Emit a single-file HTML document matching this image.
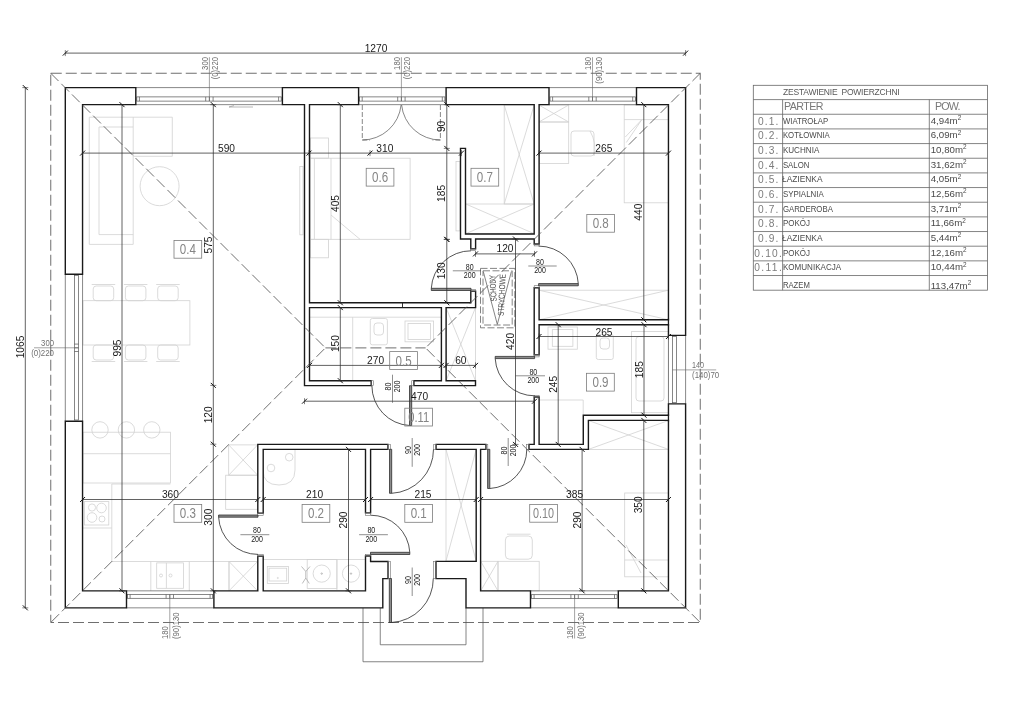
<!DOCTYPE html><html><head><meta charset="utf-8"><title>Plan</title>
<style>html,body{margin:0;padding:0;background:#fff}svg{display:block;filter:grayscale(1) blur(0.35px)}text{font-family:"Liberation Sans",sans-serif}</style></head><body>
<svg width="1024" height="724" viewBox="0 0 1024 724">
<rect width="1024" height="724" fill="#fff"/>
<g fill="none" stroke="#d2d2d2" stroke-width="0.8">
<path d="M89.3 117.2H172.3V156.3H133.2V244.4H89.3Z"/>
<path d="M99 127H133.2M99 127V234.6H133.2"/>
<line x1="133.2" y1="117.2" x2="133.2" y2="156.3" />
<circle cx="159.6" cy="186.2" r="19.5" />
<rect x="83" y="300.7" width="106.9" height="44.3" />
<rect x="93.2" y="286" width="20.5" height="14.7" rx="3"/>
<line x1="91.7" y1="284.5" x2="115.2" y2="284.5" />
<rect x="93.2" y="345" width="20.5" height="15" rx="3"/>
<line x1="91.7" y1="361.5" x2="115.2" y2="361.5" />
<rect x="125.4" y="286" width="20.5" height="14.7" rx="3"/>
<line x1="123.9" y1="284.5" x2="147.4" y2="284.5" />
<rect x="125.4" y="345" width="20.5" height="15" rx="3"/>
<line x1="123.9" y1="361.5" x2="147.4" y2="361.5" />
<rect x="157.7" y="286" width="20.5" height="14.7" rx="3"/>
<line x1="156.2" y1="284.5" x2="179.7" y2="284.5" />
<rect x="157.7" y="345" width="20.5" height="15" rx="3"/>
<line x1="156.2" y1="361.5" x2="179.7" y2="361.5" />
<circle cx="100" cy="429.9" r="8.2" />
<circle cx="126.4" cy="429.9" r="8.2" />
<circle cx="151.8" cy="429.9" r="8.2" />
<rect x="83" y="432.2" width="87.4" height="50.8" />
<line x1="83" y1="453.7" x2="170.4" y2="453.7" />
<path d="M170.4 484H111.8V561.5H258"/>
<rect x="84.4" y="501.6" width="24.4" height="23.4" />
<line x1="83" y1="528" x2="111.8" y2="528" />
<circle cx="92" cy="507.5" r="3.6" />
<circle cx="101.5" cy="508" r="4.8" />
<circle cx="92" cy="517.5" r="4.8" />
<circle cx="102" cy="519" r="3" />
<line x1="150.8" y1="561.5" x2="150.8" y2="590.85" />
<line x1="189.3" y1="561.5" x2="189.3" y2="590.85" />
<line x1="229" y1="561.5" x2="229" y2="590.85" />
<rect x="156.7" y="562.9" width="26.7" height="25.4" />
<line x1="166.4" y1="562.9" x2="166.4" y2="588.3" />
<circle cx="161" cy="575.5" r="1.5" />
<circle cx="170.5" cy="575.5" r="1.5" />
<rect x="229" y="561.5" width="28.6" height="29.35" />
<line x1="229" y1="561.5" x2="257.6" y2="590.85" />
<line x1="229" y1="590.85" x2="257.6" y2="561.5" />
<rect x="228.7" y="444.9" width="28.9" height="30.3" />
<line x1="228.7" y1="444.9" x2="257.6" y2="475.2" />
<line x1="228.7" y1="475.2" x2="257.6" y2="444.9" />
<rect x="225.7" y="475.2" width="31.9" height="34.1" />
<rect x="299.8" y="166.4" width="3.2" height="68.4" />
<rect x="310.5" y="158.2" width="99.6" height="81.1" />
<rect x="310.5" y="138" width="18.0" height="20.2" />
<rect x="310.5" y="239.3" width="18.0" height="18.5" />
<line x1="314.4" y1="158.2" x2="314.4" y2="239.3" />
<line x1="331" y1="158.2" x2="331" y2="239.3" />
<line x1="331" y1="215" x2="360" y2="239.3" />
<rect x="456" y="161.5" width="4" height="69.4" />
<rect x="504.2" y="105" width="30.0" height="99" />
<line x1="504.2" y1="105" x2="534.2" y2="204" />
<line x1="504.2" y1="204" x2="534.2" y2="105" />
<rect x="465.8" y="204" width="68.4" height="29.7" />
<line x1="465.8" y1="204" x2="534.2" y2="233.7" />
<line x1="465.8" y1="233.7" x2="534.2" y2="204" />
<rect x="538.9" y="105" width="29.8" height="17" />
<line x1="538.9" y1="105" x2="568.7" y2="122" />
<line x1="538.9" y1="122" x2="568.7" y2="105" />
<rect x="538.9" y="122" width="29.8" height="41.4" />
<rect x="571" y="131" width="23" height="25" rx="3"/>
<path d="M590 131Q597 143 594 156"/>
<rect x="624.2" y="105" width="44.8" height="97.8" />
<line x1="624.2" y1="119.6" x2="669" y2="119.6" />
<path d="M625.3 137L641.7 119.8L626.3 142.5"/>
<rect x="539" y="290.2" width="129.45" height="29.6" />
<line x1="539" y1="290.2" x2="668.45" y2="319.8" />
<line x1="539" y1="319.8" x2="668.45" y2="290.2" />
<rect x="446.2" y="307.9" width="29.2" height="72.6" />
<line x1="446.2" y1="307.9" x2="475.4" y2="380.5" />
<line x1="446.2" y1="380.5" x2="475.4" y2="307.9" />
<line x1="308.8" y1="317.2" x2="441.5" y2="317.2" />
<line x1="352.7" y1="317.2" x2="352.7" y2="380.5" />
<rect x="370.3" y="318.5" width="17.1" height="26.3" rx="2"/>
<rect x="374" y="323" width="9.5" height="12" rx="3"/>
<rect x="405" y="321" width="28.6" height="20.8" />
<rect x="408" y="323.5" width="22.5" height="16.0" />
<rect x="548" y="327" width="29.3" height="22.2" />
<rect x="552.3" y="329.6" width="20.6" height="16.7" />
<rect x="596.3" y="334.5" width="17.0" height="25.0" rx="2"/>
<rect x="600" y="338" width="9.5" height="11" rx="3"/>
<rect x="631.4" y="331.6" width="37.05" height="81.1" />
<rect x="636" y="336.5" width="28" height="64.5" rx="3"/>
<path d="M539 400H583.2V443.9"/>
<rect x="588.5" y="420.5" width="79.95" height="28.9" />
<line x1="588.5" y1="420.5" x2="668.45" y2="449.4" />
<line x1="588.5" y1="449.4" x2="668.45" y2="420.5" />
<path d="M263 449.4H295V470Q295 485 279 485Q263 485 263 470Z"/>
<circle cx="289.2" cy="457.2" r="3.8" />
<circle cx="271" cy="468" r="3.8" />
<line x1="263" y1="559.5" x2="365.5" y2="559.5" />
<rect x="267.3" y="566.6" width="21.1" height="16.8" />
<rect x="269" y="568.2" width="17.7" height="12.8" />
<rect x="307.2" y="559.5" width="29.7" height="28.9" />
<circle cx="321.7" cy="573.6" r="8.6" />
<circle cx="351" cy="573.6" r="8.6" />
<line x1="336.9" y1="559.5" x2="336.9" y2="590" />
<path d="M301.5 566.5L305.8 571.5L310 566.5M305.8 571.5V578M302.3 583.5L305.8 578L309.3 583.5" stroke="#aaa"/>
<circle cx="321.7" cy="573.6" r="0.7" stroke="#aaa"/>
<circle cx="351" cy="573.6" r="0.7" stroke="#aaa"/>
<circle cx="277.8" cy="578" r="0.6" />
<rect x="446" y="449.4" width="30.2" height="111.6" />
<line x1="446" y1="449.4" x2="476.2" y2="561" />
<line x1="446" y1="561" x2="476.2" y2="449.4" />
<rect x="505.4" y="536" width="26.9" height="23.2" rx="4"/>
<line x1="507" y1="534.2" x2="530.5" y2="534.2" />
<rect x="498" y="561.3" width="41.2" height="29.55" />
<rect x="480.7" y="561.3" width="17.3" height="29.55" />
<line x1="480.7" y1="561.3" x2="498" y2="590.85" />
<line x1="480.7" y1="590.85" x2="498" y2="561.3" />
<rect x="624.7" y="493" width="44.3" height="83.8" />
<line x1="624.7" y1="560" x2="669" y2="560" />
<path d="M626 545L641 573"/>
</g>
<g fill="none" stroke="#666" stroke-width="0.8">
<path d="M363 607.85V661.75H483V607.85M380.25 607.85V644.75H466V607.85"/>
</g>
<g fill="none" stroke="#555" stroke-width="0.7">
<line x1="135.8" y1="87.6" x2="282.4" y2="87.6" />
<line x1="135.8" y1="104.65" x2="282.4" y2="104.65" />
<rect x="136.8" y="96.9" width="144.4" height="4.2" />
<line x1="205.70000000000002" y1="96.9" x2="205.70000000000002" y2="101.1" />
<line x1="209.4" y1="96.9" x2="209.4" y2="101.1" />
<line x1="213.1" y1="96.9" x2="213.1" y2="101.1" />
<line x1="139.4" y1="96.9" x2="139.4" y2="101.1" />
<line x1="278.59999999999997" y1="96.9" x2="278.59999999999997" y2="101.1" />
<line x1="358.6" y1="87.6" x2="446.1" y2="87.6" />
<line x1="358.6" y1="104.65" x2="446.1" y2="104.65" />
<rect x="359.6" y="96.9" width="85.3" height="4.2" />
<line x1="397.7" y1="96.9" x2="397.7" y2="101.1" />
<line x1="401.4" y1="96.9" x2="401.4" y2="101.1" />
<line x1="405.09999999999997" y1="96.9" x2="405.09999999999997" y2="101.1" />
<line x1="362.20000000000005" y1="96.9" x2="362.20000000000005" y2="101.1" />
<line x1="442.3" y1="96.9" x2="442.3" y2="101.1" />
<line x1="549" y1="87.6" x2="636.5" y2="87.6" />
<line x1="549" y1="104.65" x2="636.5" y2="104.65" />
<rect x="550" y="96.9" width="85.3" height="4.2" />
<line x1="588.8" y1="96.9" x2="588.8" y2="101.1" />
<line x1="592.5" y1="96.9" x2="592.5" y2="101.1" />
<line x1="596.2" y1="96.9" x2="596.2" y2="101.1" />
<line x1="552.6" y1="96.9" x2="552.6" y2="101.1" />
<line x1="632.7" y1="96.9" x2="632.7" y2="101.1" />
<line x1="126.5" y1="607.85" x2="213.9" y2="607.85" />
<line x1="126.5" y1="590.85" x2="213.9" y2="590.85" />
<rect x="127.5" y="594.5" width="85.2" height="3.8" />
<line x1="166.10000000000002" y1="594.5" x2="166.10000000000002" y2="598.3" />
<line x1="169.8" y1="594.5" x2="169.8" y2="598.3" />
<line x1="173.5" y1="594.5" x2="173.5" y2="598.3" />
<line x1="130.1" y1="594.5" x2="130.1" y2="598.3" />
<line x1="210.1" y1="594.5" x2="210.1" y2="598.3" />
<line x1="530.5" y1="607.85" x2="618.3" y2="607.85" />
<line x1="530.5" y1="590.85" x2="618.3" y2="590.85" />
<rect x="531.5" y="594.7" width="85.6" height="3.9" />
<line x1="570.9" y1="594.7" x2="570.9" y2="598.6" />
<line x1="574.6" y1="594.7" x2="574.6" y2="598.6" />
<line x1="578.3000000000001" y1="594.7" x2="578.3000000000001" y2="598.6" />
<line x1="534.1" y1="594.7" x2="534.1" y2="598.6" />
<line x1="614.5" y1="594.7" x2="614.5" y2="598.6" />
<line x1="65.3" y1="274.3" x2="65.3" y2="421.2" />
<line x1="82.55" y1="274.3" x2="82.55" y2="421.2" />
<rect x="74.4" y="275.3" width="4.1" height="144.7" />
<line x1="74.4" y1="344.1" x2="78.5" y2="344.1" />
<line x1="74.4" y1="347.8" x2="78.5" y2="347.8" />
<line x1="74.4" y1="351.5" x2="78.5" y2="351.5" />
<line x1="685.6" y1="335.4" x2="685.6" y2="403.9" />
<line x1="668.45" y1="335.4" x2="668.45" y2="403.9" />
<rect x="672.5" y="336.4" width="3.9" height="66.3" />
</g>
<path d="M229 107H253M229 107L234 105.6" fill="none" stroke="#999" stroke-width="0.7"/>
<path d="M82.55 104.65L135.8 104.65L135.8 87.6L82.55 87.6L65.3 87.6L65.3 104.65L65.3 274.3L82.55 274.3ZM304.5 307.6L304.5 380.7L304.5 385.6L309.5 385.6L371.2 385.6L371.2 380.7L309.5 380.7L309.5 307.6L441.4 307.6L441.4 380.7L413.9 380.7L413.9 385.6L441.4 385.6L446.1 385.6L475.5 385.6L475.5 380.7L446.1 380.7L446.1 307.6L470.8 307.6L475.5 307.6L475.6 307.6L475.6 291.2L470.8 291.2L470.8 302.75L309.5 302.75L309.5 104.65L358.6 104.65L358.6 87.6L282.4 87.6L282.4 104.65L304.5 104.65L304.5 302.75ZM436.1 449.4L476.2 449.4L476.2 561.4L466.0 561.4L436.0 561.4L436.0 578.6L466.0 578.6L466.0 590.85L466.0 607.85L480.6 607.85L530.5 607.85L530.5 590.85L480.6 590.85L480.6 578.6L480.6 561.4L480.6 449.4L485.9 449.4L485.9 444.4L480.6 444.4L476.2 444.4L436.1 444.4ZM263.2 444.4L257.8 444.4L257.8 449.4L257.8 513.1L263.2 513.1L263.2 449.4L365.5 449.4L365.5 512.9L370.6 512.9L370.6 449.4L387.9 449.4L387.9 444.4L370.6 444.4L365.5 444.4ZM65.3 590.85L65.3 607.85L82.55 607.85L126.5 607.85L126.5 590.85L82.55 590.85L82.55 421.2L65.3 421.2ZM365.5 556.0L365.5 561.5L365.5 578.6L365.5 590.85L263.2 590.85L263.2 556.2L257.8 556.2L257.8 590.85L213.9 590.85L213.9 607.85L365.5 607.85L382.8 607.85L382.8 590.85L382.8 578.6L388.0 578.6L388.0 561.5L370.6 561.5L370.6 556.0ZM539.1 319.8L539.1 287.8L534.2 287.8L534.2 319.8L534.2 324.7L534.2 354.7L539.1 354.7L539.1 324.7L668.45 324.7L668.45 335.4L685.6 335.4L685.6 104.65L685.6 87.6L668.45 87.6L636.5 87.6L636.5 104.65L668.45 104.65L668.45 319.8ZM534.2 104.65L534.2 234.0L475.6 234.0L470.8 234.0L465.5 234.0L465.5 148.4L460.5 148.4L460.5 234.0L460.5 239.0L465.5 239.0L470.8 239.0L470.8 248.8L475.6 248.8L475.6 239.0L534.2 239.0L534.2 244.0L539.1 244.0L539.1 104.65L549.0 104.65L549.0 87.6L446.1 87.6L446.1 104.65ZM539.1 397.0L534.2 397.0L534.2 444.4L529.0 444.4L529.0 449.4L534.2 449.4L539.1 449.4L583.3 449.4L588.4 449.4L588.4 444.4L588.4 420.4L668.45 420.4L668.45 590.85L618.3 590.85L618.3 607.85L668.45 607.85L685.6 607.85L685.6 590.85L685.6 403.9L668.45 403.9L668.45 415.2L588.4 415.2L583.3 415.2L583.3 420.4L583.3 444.4L539.1 444.4Z" fill="#fff" fill-rule="evenodd" stroke="#1a1a1a" stroke-width="1.4" stroke-linejoin="miter"/>
<path d="M668.45 318.5V325.7M668.45 414.2V421.4" stroke="#1a1a1a" stroke-width="1.3" fill="none"/>
<line x1="402.5" y1="302.75" x2="402.5" y2="307.6" stroke="#1c1c1c" stroke-width="0.9"/>
<g fill="none" stroke="#4a4a4a" stroke-width="0.8" stroke-dasharray="11 4">
<rect x="50.75" y="73.25" width="649.5" height="549.25"/>
<path d="M50.75 73.25L325.4 347.9L50.75 622.5M700.25 73.25L425.6 347.9L700.25 622.5M325.4 347.9H425.6"/>
</g>
<g fill="none" stroke="#666" stroke-width="0.8">
<rect x="480.5" y="268.4" width="34.3" height="59.4" stroke-dasharray="7 2.5"/>
<rect x="483" y="270.8" width="29.2" height="54.2" stroke-dasharray="7 2.5"/>
<path d="M483.3 271.5L497.3 324.4L511.4 271.5"/>
</g>
<g fill="#484848" font-size="8.6px" text-anchor="end">
<text transform="translate(495.2 274.6) rotate(-93) scale(-1 1)" style="display:none"></text>
<text transform="translate(495.4 274.8) rotate(-93) scale(.72 1)" text-anchor="end">SCHODY</text>
<text transform="translate(505.6 274.2) rotate(-87.6) scale(.75 1)" text-anchor="end">STRYCHOWE</text>
</g>
<g fill="none" stroke="#707070" stroke-width="0.6">
<rect x="470.8" y="248.8" width="4.8" height="1.8" />
<rect x="470.8" y="289.4" width="4.8" height="1.8" />
<rect x="534.2" y="244" width="4.9" height="1.9" />
<rect x="534.2" y="285.7" width="4.9" height="2.1" />
<rect x="534.2" y="354.7" width="4.9" height="2.2" />
<rect x="534.2" y="395.3" width="4.9" height="1.7" />
<rect x="371.2" y="380.7" width="2.2" height="4.9" />
<rect x="411.7" y="380.7" width="2.2" height="4.9" />
<rect x="387.9" y="444.4" width="2.4" height="5.0" />
<rect x="433.7" y="444.4" width="2.4" height="5.0" />
<rect x="485.9" y="444.4" width="1.9" height="5.0" />
<rect x="526.6" y="444.4" width="2.4" height="5.0" />
<rect x="257.8" y="513.1" width="5.4" height="2.4" />
<rect x="257.8" y="554.3" width="5.4" height="1.9" />
<rect x="365.5" y="512.9" width="5.1" height="2.5" />
<rect x="365.5" y="554.4" width="5.1" height="1.6" />
<rect x="388" y="561.5" width="2.4" height="17.1" />
<rect x="433.6" y="561.4" width="2.4" height="17.2" />
</g>
<g fill="none" stroke="#2a2a2a" stroke-width="0.8">
<path d="M471 290.5L431.3 290.5L431.3 288.3L471.0 288.3Z" fill="#8c8c8c" stroke="#262626" stroke-width="0.75"/>
<path d="M431.3 288.3A39.7 39.7 0 0 1 471.0 250.8"/>
<path d="M538.6 285.8L578.3 285.8L578.3 283.6L538.6 283.6Z" fill="#8c8c8c" stroke="#262626" stroke-width="0.75"/>
<path d="M578.3 283.6A39.7 39.7 0 0 0 538.6 246.1"/>
<path d="M534.6 356.4L495.2 356.4L495.2 358.6L534.6 358.6Z" fill="#8c8c8c" stroke="#262626" stroke-width="0.75"/>
<path d="M495.2 358.6A39.4 39.4 0 0 0 534.6 395.8"/>
<path d="M411.7 385.7L411.7 425.5L409.5 425.5L409.5 385.7Z" fill="#8c8c8c" stroke="#262626" stroke-width="0.75"/>
<path d="M409.5 425.5A39.8 39.8 0 0 1 371.9 385.7"/>
<path d="M389.5 449.3L389.5 493.3L391.7 493.3L391.7 449.3Z" fill="#8c8c8c" stroke="#262626" stroke-width="0.75"/>
<path d="M391.7 493.3A44 44 0 0 0 433.5 449.3"/>
<path d="M487.6 449.3L487.6 488.5L489.8 488.5L489.8 449.3Z" fill="#8c8c8c" stroke="#262626" stroke-width="0.75"/>
<path d="M489.8 488.5A39.2 39.2 0 0 0 526.8 449.3"/>
<path d="M258 515L218.6 515.0L218.6 517.2L258.0 517.2Z" fill="#8c8c8c" stroke="#262626" stroke-width="0.75"/>
<path d="M218.6 517.2A39.4 39.4 0 0 0 258.0 554.4"/>
<path d="M370.5 554.5L409.8 554.5L409.8 552.3L370.5 552.3Z" fill="#8c8c8c" stroke="#262626" stroke-width="0.75"/>
<path d="M409.8 552.3A39.3 39.3 0 0 0 370.5 515.2"/>
<path d="M389.3 578.5L389.3 622.5L391.5 622.5L391.5 578.5Z" fill="#8c8c8c" stroke="#262626" stroke-width="0.75"/>
<path d="M391.5 622.5A44 44 0 0 0 433.3 578.5"/>
</g>
<g fill="none" stroke="#555" stroke-width="0.7">
<path d="M362.3 105V140H370M440.4 105V140H432.5" stroke-dasharray="5 2"/>
<path d="M362.3 140A39 39 0 0 0 401.1 105M440.4 140A39 39 0 0 1 401.6 105"/>
</g>
<g fill="none" stroke="#2e2e2e" stroke-width="0.75">
<line x1="65.0" y1="53.1" x2="685.9" y2="53.1" />
<path d="M62.8 55.6L67.8 50.6" stroke="#111" stroke-width="1"/>
<path d="M65.3 50.1V56.1" stroke-width="0.6"/>
<path d="M683.1 55.6L688.1 50.6" stroke="#111" stroke-width="1"/>
<path d="M685.6 50.1V56.1" stroke-width="0.6"/>
<line x1="25.3" y1="87.3" x2="25.3" y2="608.15" />
<path d="M22.8 85.1L27.8 90.1" stroke="#111" stroke-width="1"/>
<path d="M22.3 87.6H28.3" stroke-width="0.6"/>
<path d="M22.8 605.35L27.8 610.35" stroke="#111" stroke-width="1"/>
<path d="M22.3 607.85H28.3" stroke-width="0.6"/>
<line x1="82.25" y1="153.1" x2="461.8" y2="153.1" />
<path d="M80.05 155.6L85.05 150.6" stroke="#111" stroke-width="1"/>
<path d="M82.55 150.1V156.1" stroke-width="0.6"/>
<path d="M306.5 155.6L311.5 150.6" stroke="#111" stroke-width="1"/>
<path d="M309 150.1V156.1" stroke-width="0.6"/>
<path d="M367.5 155.6L372.5 150.6" stroke="#111" stroke-width="1"/>
<path d="M370 150.1V156.1" stroke-width="0.6"/>
<path d="M459.0 155.6L464.0 150.6" stroke="#111" stroke-width="1"/>
<path d="M461.5 150.1V156.1" stroke-width="0.6"/>
<line x1="538.7" y1="153.1" x2="668.75" y2="153.1" />
<path d="M536.5 155.6L541.5 150.6" stroke="#111" stroke-width="1"/>
<path d="M539 150.1V156.1" stroke-width="0.6"/>
<path d="M665.95 155.6L670.95 150.6" stroke="#111" stroke-width="1"/>
<path d="M668.45 150.1V156.1" stroke-width="0.6"/>
<line x1="122" y1="104.35000000000001" x2="122" y2="591.15" />
<path d="M119.5 102.15L124.5 107.15" stroke="#111" stroke-width="1"/>
<path d="M119 104.65H125" stroke-width="0.6"/>
<path d="M119.5 588.35L124.5 593.35" stroke="#111" stroke-width="1"/>
<path d="M119 590.85H125" stroke-width="0.6"/>
<line x1="213.3" y1="104.35000000000001" x2="213.3" y2="591.15" />
<path d="M210.8 102.15L215.8 107.15" stroke="#111" stroke-width="1"/>
<path d="M210.3 104.65H216.3" stroke-width="0.6"/>
<path d="M210.8 382.9L215.8 387.9" stroke="#111" stroke-width="1"/>
<path d="M210.3 385.4H216.3" stroke-width="0.6"/>
<path d="M210.8 441.7L215.8 446.7" stroke="#111" stroke-width="1"/>
<path d="M210.3 444.2H216.3" stroke-width="0.6"/>
<path d="M210.8 588.35L215.8 593.35" stroke="#111" stroke-width="1"/>
<path d="M210.3 590.85H216.3" stroke-width="0.6"/>
<line x1="340.3" y1="104.35000000000001" x2="340.3" y2="303.05" />
<path d="M337.8 102.15L342.8 107.15" stroke="#111" stroke-width="1"/>
<path d="M337.3 104.65H343.3" stroke-width="0.6"/>
<path d="M337.8 300.25L342.8 305.25" stroke="#111" stroke-width="1"/>
<path d="M337.3 302.75H343.3" stroke-width="0.6"/>
<line x1="340.3" y1="307.3" x2="340.3" y2="381.0" />
<path d="M337.8 305.1L342.8 310.1" stroke="#111" stroke-width="1"/>
<path d="M337.3 307.6H343.3" stroke-width="0.6"/>
<path d="M337.8 378.2L342.8 383.2" stroke="#111" stroke-width="1"/>
<path d="M337.3 380.7H343.3" stroke-width="0.6"/>
<line x1="446.8" y1="104.35000000000001" x2="446.8" y2="239.70000000000002" />
<path d="M444.3 102.15L449.3 107.15" stroke="#111" stroke-width="1"/>
<path d="M443.8 104.65H449.8" stroke-width="0.6"/>
<path d="M444.3 145.9L449.3 150.9" stroke="#111" stroke-width="1"/>
<path d="M443.8 148.4H449.8" stroke-width="0.6"/>
<path d="M444.3 236.9L449.3 241.9" stroke="#111" stroke-width="1"/>
<path d="M443.8 239.4H449.8" stroke-width="0.6"/>
<line x1="446.8" y1="239.4" x2="446.8" y2="302.75" />
<path d="M444.3 236.9L449.3 241.9" stroke="#111" stroke-width="1"/>
<path d="M443.8 239.4H449.8" stroke-width="0.6"/>
<path d="M444.3 300.25L449.3 305.25" stroke="#111" stroke-width="1"/>
<path d="M443.8 302.75H449.8" stroke-width="0.6"/>
<line x1="475.2" y1="253.9" x2="534.8" y2="253.9" />
<path d="M473.0 256.4L478.0 251.4" stroke="#111" stroke-width="1"/>
<path d="M475.5 250.9V256.9" stroke-width="0.6"/>
<path d="M532.0 256.4L537.0 251.4" stroke="#111" stroke-width="1"/>
<path d="M534.5 250.9V256.9" stroke-width="0.6"/>
<line x1="515.5" y1="238.7" x2="515.5" y2="444.7" />
<path d="M513.0 236.5L518.0 241.5" stroke="#111" stroke-width="1"/>
<path d="M512.5 239H518.5" stroke-width="0.6"/>
<path d="M513.0 441.9L518.0 446.9" stroke="#111" stroke-width="1"/>
<path d="M512.5 444.4H518.5" stroke-width="0.6"/>
<line x1="643.8" y1="104.35000000000001" x2="643.8" y2="320.1" />
<path d="M641.3 102.15L646.3 107.15" stroke="#111" stroke-width="1"/>
<path d="M640.8 104.65H646.8" stroke-width="0.6"/>
<path d="M641.3 317.3L646.3 322.3" stroke="#111" stroke-width="1"/>
<path d="M640.8 319.8H646.8" stroke-width="0.6"/>
<line x1="644" y1="324.4" x2="644" y2="415.5" />
<path d="M641.5 322.2L646.5 327.2" stroke="#111" stroke-width="1"/>
<path d="M641 324.7H647" stroke-width="0.6"/>
<path d="M641.5 412.7L646.5 417.7" stroke="#111" stroke-width="1"/>
<path d="M641 415.2H647" stroke-width="0.6"/>
<line x1="643.8" y1="420.09999999999997" x2="643.8" y2="591.15" />
<path d="M641.3 417.9L646.3 422.9" stroke="#111" stroke-width="1"/>
<path d="M640.8 420.4H646.8" stroke-width="0.6"/>
<path d="M641.3 588.35L646.3 593.35" stroke="#111" stroke-width="1"/>
<path d="M640.8 590.85H646.8" stroke-width="0.6"/>
<line x1="538.7" y1="336.5" x2="668.75" y2="336.5" />
<path d="M536.5 339.0L541.5 334.0" stroke="#111" stroke-width="1"/>
<path d="M539 333.5V339.5" stroke-width="0.6"/>
<path d="M665.95 339.0L670.95 334.0" stroke="#111" stroke-width="1"/>
<path d="M668.45 333.5V339.5" stroke-width="0.6"/>
<line x1="558.2" y1="324.4" x2="558.2" y2="444.7" />
<path d="M555.7 322.2L560.7 327.2" stroke="#111" stroke-width="1"/>
<path d="M555.2 324.7H561.2" stroke-width="0.6"/>
<path d="M555.7 441.9L560.7 446.9" stroke="#111" stroke-width="1"/>
<path d="M555.2 444.4H561.2" stroke-width="0.6"/>
<line x1="309.2" y1="365.4" x2="441.7" y2="365.4" />
<path d="M307.0 367.9L312.0 362.9" stroke="#111" stroke-width="1"/>
<path d="M309.5 362.4V368.4" stroke-width="0.6"/>
<path d="M438.9 367.9L443.9 362.9" stroke="#111" stroke-width="1"/>
<path d="M441.4 362.4V368.4" stroke-width="0.6"/>
<line x1="445.8" y1="365.4" x2="475.8" y2="365.4" />
<path d="M443.6 367.9L448.6 362.9" stroke="#111" stroke-width="1"/>
<path d="M446.1 362.4V368.4" stroke-width="0.6"/>
<path d="M473.0 367.9L478.0 362.9" stroke="#111" stroke-width="1"/>
<path d="M475.5 362.4V368.4" stroke-width="0.6"/>
<line x1="304.2" y1="401.2" x2="534.8" y2="401.2" />
<path d="M302.0 403.7L307.0 398.7" stroke="#111" stroke-width="1"/>
<path d="M304.5 398.2V404.2" stroke-width="0.6"/>
<path d="M532.0 403.7L537.0 398.7" stroke="#111" stroke-width="1"/>
<path d="M534.5 398.2V404.2" stroke-width="0.6"/>
<line x1="82.25" y1="499.5" x2="258.1" y2="499.5" />
<path d="M80.05 502.0L85.05 497.0" stroke="#111" stroke-width="1"/>
<path d="M82.55 496.5V502.5" stroke-width="0.6"/>
<path d="M255.3 502.0L260.3 497.0" stroke="#111" stroke-width="1"/>
<path d="M257.8 496.5V502.5" stroke-width="0.6"/>
<line x1="262.9" y1="499.5" x2="365.8" y2="499.5" />
<path d="M260.7 502.0L265.7 497.0" stroke="#111" stroke-width="1"/>
<path d="M263.2 496.5V502.5" stroke-width="0.6"/>
<path d="M363.0 502.0L368.0 497.0" stroke="#111" stroke-width="1"/>
<path d="M365.5 496.5V502.5" stroke-width="0.6"/>
<line x1="370.3" y1="499.5" x2="476.5" y2="499.5" />
<path d="M368.1 502.0L373.1 497.0" stroke="#111" stroke-width="1"/>
<path d="M370.6 496.5V502.5" stroke-width="0.6"/>
<path d="M473.7 502.0L478.7 497.0" stroke="#111" stroke-width="1"/>
<path d="M476.2 496.5V502.5" stroke-width="0.6"/>
<line x1="480.3" y1="499.5" x2="668.75" y2="499.5" />
<path d="M478.1 502.0L483.1 497.0" stroke="#111" stroke-width="1"/>
<path d="M480.6 496.5V502.5" stroke-width="0.6"/>
<path d="M665.95 502.0L670.95 497.0" stroke="#111" stroke-width="1"/>
<path d="M668.45 496.5V502.5" stroke-width="0.6"/>
<line x1="348.5" y1="449.09999999999997" x2="348.5" y2="591.15" />
<path d="M346.0 446.9L351.0 451.9" stroke="#111" stroke-width="1"/>
<path d="M345.5 449.4H351.5" stroke-width="0.6"/>
<path d="M346.0 588.35L351.0 593.35" stroke="#111" stroke-width="1"/>
<path d="M345.5 590.85H351.5" stroke-width="0.6"/>
<line x1="582.1" y1="449.09999999999997" x2="582.1" y2="591.15" />
<path d="M579.6 446.9L584.6 451.9" stroke="#111" stroke-width="1"/>
<path d="M579.1 449.4H585.1" stroke-width="0.6"/>
<path d="M579.6 588.35L584.6 593.35" stroke="#111" stroke-width="1"/>
<path d="M579.1 590.85H585.1" stroke-width="0.6"/>
</g>
<g fill="#1a1a1a" font-size="10.2px" text-anchor="middle">
<text x="376" y="51.6">1270</text>
<text transform="translate(23.8 347) rotate(-90)">1065</text>
<text x="226.5" y="151.7">590</text>
<text x="384.8" y="151.7">310</text>
<text x="603.8" y="151.7">265</text>
<text transform="translate(120.5 348) rotate(-90)">995</text>
<text transform="translate(211.8 245) rotate(-90)">575</text>
<text transform="translate(211.8 414.8) rotate(-90)">120</text>
<text transform="translate(211.8 517.2) rotate(-90)">300</text>
<text transform="translate(338.8 203.5) rotate(-90)">405</text>
<text transform="translate(338.8 343.6) rotate(-90)">150</text>
<text transform="translate(445.3 126.4) rotate(-90)">90</text>
<text transform="translate(445.3 193.4) rotate(-90)">185</text>
<text transform="translate(445.3 270.8) rotate(-90)">130</text>
<text x="505" y="252.4">120</text>
<text transform="translate(514.0 341.4) rotate(-90)">420</text>
<text transform="translate(642.3 212.2) rotate(-90)">440</text>
<text transform="translate(642.5 369.7) rotate(-90)">185</text>
<text transform="translate(642.3 504.8) rotate(-90)">350</text>
<text x="604" y="335.9">265</text>
<text transform="translate(556.7 384.3) rotate(-90)">245</text>
<text x="375.6" y="363.9">270</text>
<text x="460.8" y="363.9">60</text>
<text x="419.6" y="399.7">470</text>
<text x="170.4" y="498.1">360</text>
<text x="314.6" y="498.1">210</text>
<text x="423" y="498.1">215</text>
<text x="574.6" y="498.1">385</text>
<text transform="translate(347.0 520) rotate(-90)">290</text>
<text transform="translate(580.6 520) rotate(-90)">290</text>
</g>
<g fill="none" stroke="#7c7c7c" stroke-width="0.8">
<rect x="174" y="240.4" width="27.7" height="17.8" />
<rect x="366.2" y="168.3" width="27.7" height="17.8" />
<rect x="471" y="168.3" width="27.7" height="17.8" />
<rect x="586.8" y="214.4" width="27.7" height="17.8" />
<rect x="389.7" y="351.6" width="27.7" height="17.8" />
<rect x="586.6" y="373.3" width="27.7" height="17.8" />
<rect x="404.8" y="408.2" width="27.7" height="17.8" />
<rect x="174" y="504.5" width="27.7" height="17.8" />
<rect x="302.1" y="504.5" width="27.7" height="17.8" />
<rect x="404.8" y="504.5" width="27.7" height="17.8" />
<rect x="529.7" y="504.4" width="27.7" height="17.8" />
</g>
<g fill="#858585" font-size="14px" text-anchor="middle">
<text x="187.9" y="254.3" textLength="16.1" lengthAdjust="spacingAndGlyphs">0.4</text>
<text x="380.1" y="182.2" textLength="16.1" lengthAdjust="spacingAndGlyphs">0.6</text>
<text x="484.9" y="182.2" textLength="16.1" lengthAdjust="spacingAndGlyphs">0.7</text>
<text x="600.7" y="228.3" textLength="16.1" lengthAdjust="spacingAndGlyphs">0.8</text>
<text x="403.6" y="365.5" textLength="16.1" lengthAdjust="spacingAndGlyphs">0.5</text>
<text x="600.5" y="387.2" textLength="16.1" lengthAdjust="spacingAndGlyphs">0.9</text>
<text x="418.7" y="422.1" textLength="21" lengthAdjust="spacingAndGlyphs">0.11</text>
<text x="187.9" y="518.4" textLength="16.1" lengthAdjust="spacingAndGlyphs">0.3</text>
<text x="316.0" y="518.4" textLength="16.1" lengthAdjust="spacingAndGlyphs">0.2</text>
<text x="418.7" y="518.4" textLength="16.1" lengthAdjust="spacingAndGlyphs">0.1</text>
<text x="543.6" y="518.3" textLength="21" lengthAdjust="spacingAndGlyphs">0.10</text>
</g>
<g fill="none" stroke="#444" stroke-width="0.6">
<line x1="452.8" y1="270.8" x2="481" y2="270.8" />
<line x1="528.3" y1="266" x2="556.7" y2="266" />
<line x1="515.5" y1="375.8" x2="545" y2="375.8" />
<line x1="240.4" y1="534.7" x2="269.3" y2="534.7" />
<line x1="359.1" y1="534.7" x2="387.9" y2="534.7" />
<line x1="392.5" y1="374.7" x2="392.5" y2="402.8" />
<line x1="412.2" y1="438" x2="412.2" y2="466.8" />
<line x1="508.2" y1="438" x2="508.2" y2="466" />
<line x1="412.2" y1="567.5" x2="412.2" y2="596" />
</g>
<g fill="#1a1a1a" font-size="8.2px" text-anchor="middle">
<text transform="translate(469.7 269.5) scale(.86 1)">80</text><text transform="translate(469.7 278.2) scale(.86 1)">200</text>
<text transform="translate(540 264.7) scale(.86 1)">80</text><text transform="translate(540 273.4) scale(.86 1)">200</text>
<text transform="translate(533.3 374.5) scale(.86 1)">80</text><text transform="translate(533.3 383.2) scale(.86 1)">200</text>
<text transform="translate(257 533.4) scale(.86 1)">80</text><text transform="translate(257 542.1) scale(.86 1)">200</text>
<text transform="translate(371.3 533.4) scale(.86 1)">80</text><text transform="translate(371.3 542.1) scale(.86 1)">200</text>
<text transform="translate(391.2 386.5) rotate(-90) scale(.86 1)">80</text>
<text transform="translate(399.9 386.5) rotate(-90) scale(.86 1)">200</text>
<text transform="translate(410.9 450) rotate(-90) scale(.86 1)">90</text>
<text transform="translate(419.6 450) rotate(-90) scale(.86 1)">200</text>
<text transform="translate(506.9 450.5) rotate(-90) scale(.86 1)">80</text>
<text transform="translate(515.6 450.5) rotate(-90) scale(.86 1)">200</text>
<text transform="translate(410.9 580) rotate(-90) scale(.86 1)">90</text>
<text transform="translate(419.6 580) rotate(-90) scale(.86 1)">200</text>
</g>
<g fill="none" stroke="#666" stroke-width="0.6">
<line x1="209.4" y1="57.2" x2="209.4" y2="101.1" />
<line x1="401.4" y1="57.2" x2="401.4" y2="101.1" />
<line x1="592.5" y1="57.2" x2="592.5" y2="100.8" />
<line x1="169.8" y1="594.5" x2="169.8" y2="638.5" />
<line x1="574.6" y1="594.7" x2="574.6" y2="638.5" />
<line x1="34" y1="347.8" x2="78.3" y2="347.8" />
<line x1="672.5" y1="369.9" x2="716.2" y2="369.9" />
</g>
<g fill="#707070" font-size="9px">
<text transform="translate(207.8 57) rotate(-90) scale(.86 1)" text-anchor="end">300</text>
<text transform="translate(218.4 57) rotate(-90) scale(.86 1)" text-anchor="end">(0)220</text>
<text transform="translate(399.8 57) rotate(-90) scale(.86 1)" text-anchor="end">180</text>
<text transform="translate(410.4 57) rotate(-90) scale(.86 1)" text-anchor="end">(0)220</text>
<text transform="translate(590.9 57) rotate(-90) scale(.86 1)" text-anchor="end">180</text>
<text transform="translate(601.5 57) rotate(-90) scale(.86 1)" text-anchor="end">(90)130</text>
<text transform="translate(168.2 639) rotate(-90) scale(.86 1)" text-anchor="start">180</text>
<text transform="translate(178.8 639) rotate(-90) scale(.86 1)" text-anchor="start">(90)130</text>
<text transform="translate(573.0 639) rotate(-90) scale(.86 1)" text-anchor="start">180</text>
<text transform="translate(583.6 639) rotate(-90) scale(.86 1)" text-anchor="start">(90)130</text>
<text transform="translate(54 345.6) scale(.86 1)" text-anchor="end">300</text><text transform="translate(54 356.2) scale(.88 1)" text-anchor="end">(0)220</text>
<text transform="translate(692 367.6) scale(.8 1)">140</text><text transform="translate(692 378.1) scale(.88 1)">(140)70</text>
</g>
<g fill="none" stroke="#666" stroke-width="0.8">
<rect x="753.3" y="85.3" width="234.1" height="204.88" />
<line x1="753.3" y1="99.6" x2="987.4" y2="99.6" />
<line x1="753.3" y1="114.26" x2="987.4" y2="114.26" />
<line x1="753.3" y1="128.92" x2="987.4" y2="128.92" />
<line x1="753.3" y1="143.58" x2="987.4" y2="143.58" />
<line x1="753.3" y1="158.24" x2="987.4" y2="158.24" />
<line x1="753.3" y1="172.9" x2="987.4" y2="172.9" />
<line x1="753.3" y1="187.56" x2="987.4" y2="187.56" />
<line x1="753.3" y1="202.22" x2="987.4" y2="202.22" />
<line x1="753.3" y1="216.88" x2="987.4" y2="216.88" />
<line x1="753.3" y1="231.54" x2="987.4" y2="231.54" />
<line x1="753.3" y1="246.2" x2="987.4" y2="246.2" />
<line x1="753.3" y1="260.86" x2="987.4" y2="260.86" />
<line x1="753.3" y1="275.52" x2="987.4" y2="275.52" />
<line x1="782.6" y1="99.6" x2="782.6" y2="290.18" />
<line x1="929.3" y1="99.6" x2="929.3" y2="290.18" />
</g>
<text x="783.1" y="94.6" fill="#585858" font-size="8.5px" textLength="116.6" lengthAdjust="spacing" word-spacing="2">ZESTAWIENIE POWIERZCHNI</text>
<text x="784" y="110.2" fill="#787878" font-size="10.7px" textLength="39.4" lengthAdjust="spacing">PARTER</text>
<text x="935" y="110.2" fill="#787878" font-size="10.7px" textLength="25.4" lengthAdjust="spacing">POW.</text>
<text x="758" y="124.56" fill="#7c7c7c" font-size="10.2px" textLength="20.4" lengthAdjust="spacing">0.1.</text>
<text x="782.9" y="123.56" fill="#4a4a4a" font-size="9px" textLength="45.2" lengthAdjust="spacingAndGlyphs">WIATROŁAP</text>
<text x="930.7" y="123.66" fill="#4a4a4a" font-size="9.7px">4,94m<tspan font-size="6.4px" dy="-3.6">2</tspan></text>
<text x="758" y="139.22" fill="#7c7c7c" font-size="10.2px" textLength="20.4" lengthAdjust="spacing">0.2.</text>
<text x="782.9" y="138.22" fill="#4a4a4a" font-size="9px" textLength="46.8" lengthAdjust="spacingAndGlyphs">KOTŁOWNIA</text>
<text x="930.7" y="138.32" fill="#4a4a4a" font-size="9.7px">6,09m<tspan font-size="6.4px" dy="-3.6">2</tspan></text>
<text x="758" y="153.88" fill="#7c7c7c" font-size="10.2px" textLength="20.4" lengthAdjust="spacing">0.3.</text>
<text x="782.9" y="152.88" fill="#4a4a4a" font-size="9px" textLength="36.4" lengthAdjust="spacingAndGlyphs">KUCHNIA</text>
<text x="930.7" y="152.98" fill="#4a4a4a" font-size="9.7px">10,80m<tspan font-size="6.4px" dy="-3.6">2</tspan></text>
<text x="758" y="168.54" fill="#7c7c7c" font-size="10.2px" textLength="20.4" lengthAdjust="spacing">0.4.</text>
<text x="782.9" y="167.54" fill="#4a4a4a" font-size="9px" textLength="26.5" lengthAdjust="spacingAndGlyphs">SALON</text>
<text x="930.7" y="167.64" fill="#4a4a4a" font-size="9.7px">31,62m<tspan font-size="6.4px" dy="-3.6">2</tspan></text>
<text x="758" y="183.2" fill="#7c7c7c" font-size="10.2px" textLength="20.4" lengthAdjust="spacing">0.5.</text>
<text x="782.0" y="182.2" fill="#4a4a4a" font-size="9px" textLength="40.5" lengthAdjust="spacingAndGlyphs">ŁAZIENKA</text>
<text x="930.7" y="182.3" fill="#4a4a4a" font-size="9.7px">4,05m<tspan font-size="6.4px" dy="-3.6">2</tspan></text>
<text x="758" y="197.86" fill="#7c7c7c" font-size="10.2px" textLength="20.4" lengthAdjust="spacing">0.6.</text>
<text x="782.9" y="196.86" fill="#4a4a4a" font-size="9px" textLength="40.8" lengthAdjust="spacingAndGlyphs">SYPIALNIA</text>
<text x="930.7" y="196.96" fill="#4a4a4a" font-size="9.7px">12,56m<tspan font-size="6.4px" dy="-3.6">2</tspan></text>
<text x="758" y="212.52" fill="#7c7c7c" font-size="10.2px" textLength="20.4" lengthAdjust="spacing">0.7.</text>
<text x="782.9" y="211.52" fill="#4a4a4a" font-size="9px" textLength="50" lengthAdjust="spacingAndGlyphs">GARDEROBA</text>
<text x="930.7" y="211.62" fill="#4a4a4a" font-size="9.7px">3,71m<tspan font-size="6.4px" dy="-3.6">2</tspan></text>
<text x="758" y="227.18" fill="#7c7c7c" font-size="10.2px" textLength="20.4" lengthAdjust="spacing">0.8.</text>
<text x="782.9" y="226.18" fill="#4a4a4a" font-size="9px" textLength="27" lengthAdjust="spacingAndGlyphs">POKÓJ</text>
<text x="930.7" y="226.28" fill="#4a4a4a" font-size="9.7px">11,66m<tspan font-size="6.4px" dy="-3.6">2</tspan></text>
<text x="758" y="241.84" fill="#7c7c7c" font-size="10.2px" textLength="20.4" lengthAdjust="spacing">0.9.</text>
<text x="782.0" y="240.84" fill="#4a4a4a" font-size="9px" textLength="40.5" lengthAdjust="spacingAndGlyphs">ŁAZIENKA</text>
<text x="930.7" y="240.94" fill="#4a4a4a" font-size="9.7px">5,44m<tspan font-size="6.4px" dy="-3.6">2</tspan></text>
<text x="754.2" y="256.5" fill="#7c7c7c" font-size="10.2px" textLength="27.6" lengthAdjust="spacing">0.10.</text>
<text x="782.9" y="255.5" fill="#4a4a4a" font-size="9px" textLength="27" lengthAdjust="spacingAndGlyphs">POKÓJ</text>
<text x="930.7" y="255.6" fill="#4a4a4a" font-size="9.7px">12,16m<tspan font-size="6.4px" dy="-3.6">2</tspan></text>
<text x="754.2" y="271.16" fill="#7c7c7c" font-size="10.2px" textLength="27.6" lengthAdjust="spacing">0.11.</text>
<text x="782.9" y="270.16" fill="#4a4a4a" font-size="9px" textLength="58.3" lengthAdjust="spacingAndGlyphs">KOMUNIKACJA</text>
<text x="930.7" y="270.26" fill="#4a4a4a" font-size="9.7px">10,44m<tspan font-size="6.4px" dy="-3.6">2</tspan></text>
<text x="782.9" y="288" fill="#4a4a4a" font-size="9px" textLength="27" lengthAdjust="spacingAndGlyphs">RAZEM</text>
<text x="930.7" y="288.6" fill="#4a4a4a" font-size="9.7px">113,47m<tspan font-size="6.4px" dy="-3.6">2</tspan></text>
</svg></body></html>
